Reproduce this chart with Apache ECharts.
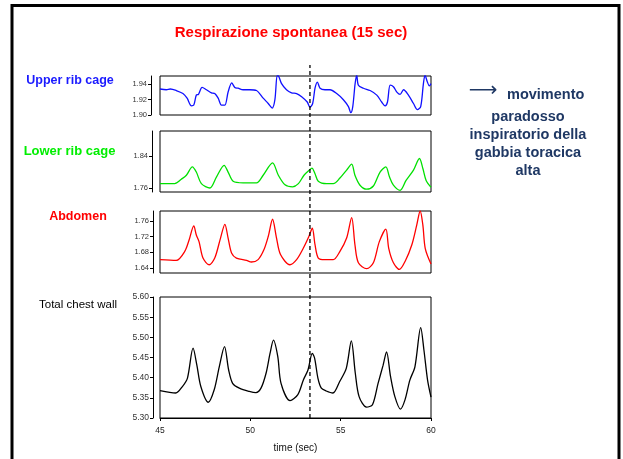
<!DOCTYPE html>
<html>
<head>
<meta charset="utf-8">
<script src="https://cdn.jsdelivr.net/npm/echarts@6/dist/echarts.min.js"></script>
<style>html,body{margin:0;padding:0;background:#fff;}#c{width:623px;height:459px;}</style>
</head>
<body>
<div id="c"></div>
<script>
// ---- DATA ----
const timeRange = [45, 60];
const timeTicks = [45, 50, 55, 60];
const markerTime = 53.3;

const upperT = [45.0,45.35,45.57,45.9,46.27,46.5,46.74,46.87,47.01,47.13,47.33,47.57,47.85,48.03,48.22,48.4,48.59,48.77,48.97,49.14,49.32,49.6,49.97,50.34,50.71,50.99,51.21,51.36,51.49,51.58,51.73,52.0,52.28,52.56,52.84,53.15,53.3,53.45,53.58,53.71,53.86,54.13,54.41,54.78,55.15,55.43,55.56,55.67,55.8,55.89,55.98,56.26,56.63,57.0,57.27,57.46,57.59,57.74,57.92,58.11,58.29,58.48,58.75,59.03,59.25,59.43,59.58,59.67,59.8,59.91,60.0];
const upperV = [1.934,1.933,1.934,1.932,1.928,1.922,1.912,1.913,1.926,1.927,1.936,1.933,1.929,1.928,1.922,1.913,1.913,1.93,1.942,1.936,1.935,1.933,1.933,1.932,1.922,1.915,1.909,1.92,1.952,1.95,1.941,1.933,1.929,1.928,1.924,1.917,1.91,1.915,1.935,1.943,1.935,1.933,1.933,1.928,1.92,1.911,1.903,1.911,1.941,1.952,1.939,1.935,1.932,1.926,1.917,1.912,1.917,1.939,1.937,1.93,1.927,1.933,1.926,1.915,1.907,1.911,1.941,1.952,1.943,1.938,1.941];
const upperTicks = [1.90, 1.92, 1.94];
const upperRange = [1.90, 1.951];

const lowerT = [45.0,45.81,46.18,46.46,46.79,47.01,47.29,47.76,48.13,48.55,48.77,49.05,49.6,50.34,50.71,51.23,51.55,51.92,52.34,52.66,52.97,53.27,53.41,53.58,53.76,54.22,54.59,54.96,55.33,55.61,55.79,56.07,56.44,56.81,57.18,57.5,57.7,57.92,58.29,58.62,59.03,59.36,59.55,59.73,60.0];
const lowerV = [1.771,1.771,1.782,1.792,1.813,1.80,1.771,1.76,1.788,1.817,1.80,1.777,1.773,1.773,1.792,1.823,1.792,1.768,1.763,1.771,1.792,1.805,1.81,1.796,1.777,1.771,1.771,1.785,1.805,1.82,1.792,1.767,1.757,1.765,1.80,1.813,1.788,1.767,1.754,1.779,1.805,1.834,1.809,1.779,1.762];
const lowerTicks = [1.76, 1.84];
const lowerRange = [1.75, 1.903];

const abdT = [45.0,45.9,46.37,46.61,46.87,47.01,47.16,47.38,47.72,48.03,48.35,48.59,48.77,48.96,49.23,49.79,50.06,50.43,50.75,50.99,51.23,51.45,51.67,52.19,52.56,52.93,53.24,53.43,53.58,53.76,54.13,54.59,54.96,55.33,55.61,55.79,55.98,56.44,56.81,57.14,57.5,57.66,57.92,58.25,58.57,58.94,59.21,59.4,59.55,59.68,60.0];
const abdV = [1.661,1.659,1.682,1.711,1.747,1.724,1.707,1.665,1.648,1.665,1.716,1.751,1.716,1.678,1.665,1.659,1.655,1.661,1.686,1.72,1.764,1.716,1.674,1.648,1.661,1.69,1.72,1.741,1.699,1.665,1.661,1.661,1.682,1.716,1.768,1.699,1.653,1.638,1.653,1.707,1.739,1.69,1.653,1.636,1.657,1.699,1.749,1.785,1.749,1.69,1.65];
const abdTicks = [1.64, 1.68, 1.72, 1.76];
const abdRange = [1.627, 1.785];

const totT = [45.0,45.87,46.24,46.52,46.83,47.04,47.26,47.67,48.0,48.28,48.57,48.8,49.02,49.39,49.94,50.31,50.59,50.87,51.09,51.28,51.52,51.7,52.2,52.63,52.94,53.19,53.43,53.56,53.74,53.93,54.2,54.57,54.94,55.31,55.59,55.81,56.02,56.43,56.76,57.07,57.35,57.54,57.76,58.0,58.31,58.56,58.83,59.11,59.43,59.61,59.81,60.0];
const totV = [5.368,5.362,5.378,5.399,5.473,5.431,5.378,5.339,5.37,5.427,5.477,5.419,5.386,5.374,5.366,5.363,5.374,5.411,5.46,5.493,5.452,5.386,5.343,5.358,5.395,5.419,5.46,5.448,5.399,5.374,5.367,5.362,5.39,5.423,5.491,5.411,5.353,5.327,5.333,5.386,5.431,5.464,5.403,5.353,5.322,5.345,5.394,5.427,5.524,5.468,5.394,5.352];
const totTicks = [5.30, 5.35, 5.40, 5.45, 5.50, 5.55, 5.60];
const totRange = [5.30, 5.60];

const panelNames = ['Upper rib cage', 'Lower rib cage', 'Abdomen', 'Total chest wall'];
const titleText = 'Respirazione spontanea (15 sec)';
const noteLines = ['paradosso', 'inspiratorio della', 'gabbia toracica', 'alta'];
const noteFirst = 'movimento';
const xName = 'time (sec)';

// ---- BUILD ----
const zip = (t, v) => t.map((x, i) => [x, v[i]]);
const FONT = 'Liberation Sans, Arial, sans-serif';
const L = 160, R = 192;
const panels = [
  {top: 76, height: 39, off: 9, ticks: upperTicks, range: upperRange, data: zip(upperT, upperV), color: '#1010ff', fs: 7.5},
  {top: 131, height: 61, off: 8, ticks: lowerTicks, range: lowerRange, data: zip(lowerT, lowerV), color: '#00e000', fs: 7.5},
  {top: 211, height: 62, off: 7, ticks: abdTicks, range: abdRange, data: zip(abdT, abdV), color: '#ff0000', fs: 7.5},
  {top: 297, height: 121, off: 7, ticks: totTicks, range: totRange, data: zip(totT, totV), color: '#000000', fs: 8.5}
];

const grid = [], xAxis = [], yAxis = [], series = [];
panels.forEach((p, i) => {
  grid.push({left: L, right: R, top: p.top, height: p.height, show: true, borderColor: '#000', borderWidth: 1, backgroundColor: 'transparent'});
  const isLast = i === panels.length - 1;
  xAxis.push({
    type: 'value', gridIndex: i, min: timeRange[0], max: timeRange[1], interval: 5,
    show: isLast,
    axisLine: {show: isLast, lineStyle: {color: '#000', width: 1}},
    axisTick: {show: isLast, length: 3, lineStyle: {color: '#000'}, customValues: timeTicks},
    axisLabel: {show: isLast, fontSize: 8.5, color: '#222', fontFamily: FONT, margin: 8, customValues: timeTicks},
    splitLine: {show: false},
    name: isLast ? xName : '', nameLocation: 'middle', nameGap: 25,
    nameTextStyle: {fontSize: 10, color: '#111', fontFamily: FONT}
  });
  yAxis.push({
    type: 'value', gridIndex: i, min: p.range[0], max: p.range[1], offset: p.off,
    axisLine: {show: true, lineStyle: {color: '#000', width: 1}},
    axisTick: {show: true, length: 3, lineStyle: {color: '#000'}, customValues: p.ticks},
    axisLabel: {fontSize: p.fs, color: '#333', fontFamily: FONT, margin: 4, customValues: p.ticks, formatter: v => v.toFixed(2)},
    splitLine: {show: false}
  });
  series.push({
    type: 'line', xAxisIndex: i, yAxisIndex: i, data: p.data, showSymbol: false, symbol: 'none',
    smooth: 0.3, clip: true, lineStyle: {color: p.color, width: 1.3}, silent: true, animation: false
  });
});
// overlay grid for the dashed marker across all panels
grid.push({left: L, right: R, top: 65, height: 353, show: false});
xAxis.push({type: 'value', gridIndex: 4, min: timeRange[0], max: timeRange[1], show: false});
yAxis.push({type: 'value', gridIndex: 4, min: 0, max: 1, show: false});
series.push({type: 'line', xAxisIndex: 4, yAxisIndex: 4, data: [[markerTime, 0], [markerTime, 1]], symbol: 'none',
  lineStyle: {color: '#000', width: 1.3, type: [4, 3]}, silent: true, animation: false});

const labelPos = [
  {x: 70, y: 81, color: '#1a1aff', weight: 'bold', size: 12.5},
  {x: 69.5, y: 151, color: '#00ee00', weight: 'bold', size: 13},
  {x: 78, y: 217, color: '#ff0000', weight: 'bold', size: 12.5},
  {x: 78, y: 305, color: '#000000', weight: 'normal', size: 11.5}
];
const NAVY = '#1f3864';
const graphic = [
  {type: 'rect', shape: {x: 12, y: 5.5, width: 607, height: 470}, style: {fill: 'none', stroke: '#000', lineWidth: 3}, silent: true},
  {type: 'text', x: 291, y: 32.5, style: {text: titleText, fill: '#ff0000', fontSize: 15, fontWeight: 'bold', fontFamily: FONT, textAlign: 'center', textVerticalAlign: 'middle'}}
];
panelNames.forEach((n, i) => {
  const lp = labelPos[i];
  graphic.push({type: 'text', x: lp.x, y: lp.y, style: {text: n, fill: lp.color, fontSize: lp.size, fontWeight: lp.weight, fontFamily: FONT, textAlign: 'center', textVerticalAlign: 'middle'}});
});
graphic.push({type: 'text', x: 483, y: 91, style: {text: '⟶', fill: NAVY, fontSize: 20, fontFamily: 'DejaVu Sans', textAlign: 'center', textVerticalAlign: 'middle'}});
graphic.push({type: 'text', x: 507, y: 94.5, style: {text: noteFirst, fill: NAVY, fontSize: 14.5, fontWeight: 'bold', fontFamily: FONT, textAlign: 'left', textVerticalAlign: 'middle'}});
const noteY = [117, 135, 153, 170.5];
noteLines.forEach((t, i) => {
  graphic.push({type: 'text', x: 528, y: noteY[i], style: {text: t, fill: NAVY, fontSize: 14.5, fontWeight: 'bold', fontFamily: FONT, textAlign: 'center', textVerticalAlign: 'middle'}});
});

const chart = echarts.init(document.getElementById('c'), null, {renderer: 'canvas'});
chart.setOption({animation: false, backgroundColor: '#fff', grid, xAxis, yAxis, series, graphic});
</script>
</body>
</html>
